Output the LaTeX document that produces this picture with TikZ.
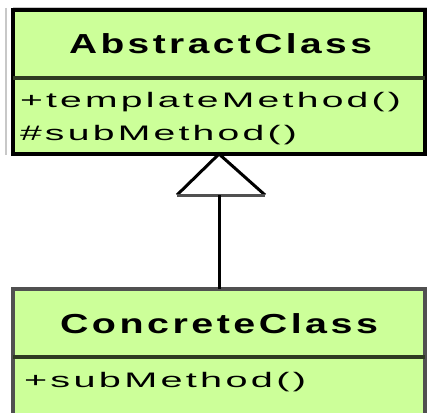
\documentclass[tikz,border=0pt]{standalone}
\usepackage{fontspec}
\usepackage{graphicx}
\newfontfamily\umltitlefont[FakeStretch=1.35,LetterSpace=12]{Liberation Sans}
\newfontfamily\umlmemberfont[FakeStretch=1.8,LetterSpace=15]{Liberation Sans}
\definecolor{classfill}{HTML}{CCFF99}
\definecolor{rulecol}{HTML}{2E3A22}
\definecolor{shadowgray}{HTML}{C8C8C8}
\definecolor{edgegray}{HTML}{505050}
\tikzset{
  classbox/.style={rectangle, fill=classfill, line width=3.5pt, inner sep=0pt, outer sep=0pt},
  classname/.style={anchor=base west, inner sep=0pt, outer sep=0pt},
  member/.style={anchor=base west, inner sep=0pt, outer sep=0pt},
  divider/.style={draw=rulecol, line width=3.2pt},
  gen/.style={line width=3pt, draw=black},
}
% stretch a line of text to a given width, keeping its height
\newcommand{\titletext}[2]{\resizebox{#1}{\height}{\umltitlefont\bfseries\fontsize{27.5}{30}\selectfont #2}}
\newcommand{\membertext}[2]{\resizebox{#1}{\height}{\umlmemberfont\fontsize{21}{24}\selectfont #2}}
\begin{document}
\begin{tikzpicture}[x=1pt,y=-1pt]
  \useasboundingbox (0,0) rectangle (427,412);
  \clip (0,0) rectangle (427,412);

  % abstract base class
  \draw[shadowgray, line width=2.5pt] (6,8) -- (6,155);
  \draw[shadowgray, line width=2.5pt] (13,8) -- (427,8);
  \node[classbox, draw=black, minimum width=412pt, minimum height=144pt] (abs) at (219,82) {};
  \draw[divider] (abs.west |- 0,78) -- (abs.east |- 0,78);
  \node[classname] (absname) at (69,53) {\titletext{303pt}{AbstractClass}};
  \node[member] (absm1) at (20,107) {\membertext{381pt}{+templateMethod()}};
  \node[member] (absm2) at (20,140) {\membertext{277pt}{\#subMethod()}};

  % concrete subclass
  \node[classbox, draw=edgegray, minimum width=412pt, minimum height=151pt] (con) at (219,364.5) {};
  \draw[divider] (con.west |- 0,357) -- (con.east |- 0,357);
  \node[classname] (conname) at (60,333) {\titletext{318pt}{ConcreteClass}};
  \node[member] (conm1) at (24,387) {\membertext{282pt}{+subMethod()}};

  % generalization: open triangle at the superclass, stem down to the subclass
  \coordinate (tip) at (abs.south);
  \coordinate (tbase) at (219,195);
  \coordinate (tleft) at (177,195);
  \coordinate (tright) at (265,195);
  \fill[white] (tip) -- (tleft) -- (tright) -- cycle;
  \draw[gen, line join=miter] (tleft) -- (tip) -- (tright);
  \draw[edgegray, line width=3pt] (tleft) -- (tright);
  \draw[gen] (con.north) -- (tbase);
\end{tikzpicture}
\end{document}
